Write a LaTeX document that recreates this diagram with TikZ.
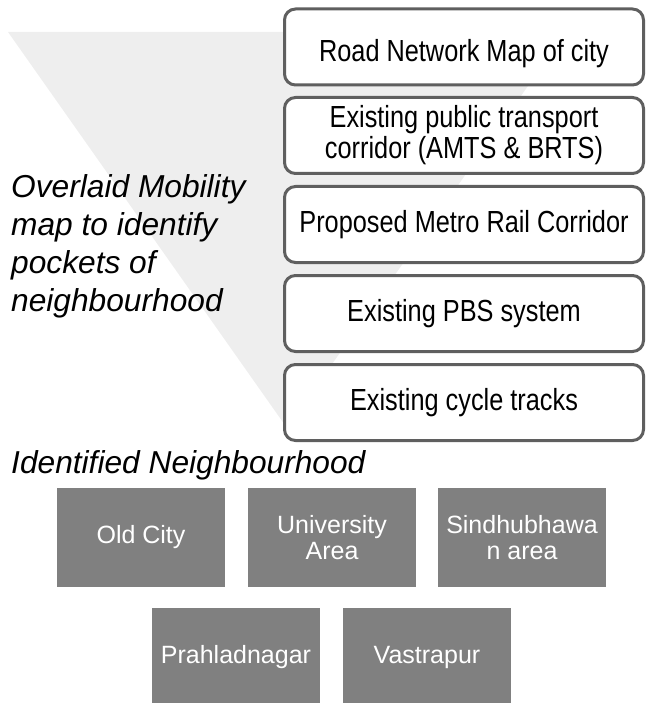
\documentclass[tikz,border=0pt]{standalone}
\usepackage{fontspec}
\setmainfont{Liberation Sans}
\newfontfamily\narrowsans[FakeStretch=0.83]{Liberation Sans}
\definecolor{funnelgray}{RGB}{238,238,238}
\definecolor{layerline}{RGB}{95,95,95}
\definecolor{areafill}{RGB}{128,128,128}

\tikzset{
  layerbox/.style={draw=layerline, line width=3pt, rounded corners=11pt,
    fill=white, minimum width=359pt, minimum height=76pt, inner sep=0pt,
    align=center, text=black, font=\narrowsans\fontsize{30.5}{31}\selectfont},
  areabox/.style={fill=areafill, minimum width=168pt, minimum height=99pt,
    inner sep=0pt, align=center, text=white,
    font=\fontsize{25}{26.5}\selectfont},
  heading/.style={inner sep=0pt, align=left, text=black,
    font=\itshape\fontsize{31.7}{38}\selectfont}
}

\begin{document}
\begin{tikzpicture}[x=1pt, y=-1pt]
  \useasboundingbox (0,0) rectangle (646,703);
  \clip (0,0) rectangle (646,703);

  % funnel behind the layer stack
  \fill[funnelgray] (8,32) -- (566,32) -- (287,428) -- cycle;

  % mobility layers
  \node[layerbox, text height=30pt, text depth=0pt] (road) at (464,47)
    {Road Network Map of city};
  \node[layerbox] (pt)     at (464,135.5) {Existing public transport\\corridor (AMTS \& BRTS)};
  \node[layerbox] (metro)  at (464,224.5) {Proposed Metro Rail Corridor};
  \node[layerbox] (pbs)    at (464,313.5) {Existing PBS system};
  \node[layerbox] (cycle)  at (464,402.5) {Existing cycle tracks};

  % captions
  \node[heading, anchor=north west] (overlay) at (11,174)
    {Overlaid Mobility\\map to identify\\pockets of\\neighbourhood};
  \node[heading, anchor=base west] (ident) at (11,473) {Identified Neighbourhood};

  % identified neighbourhoods
  \node[areabox] (oldcity) at (141,537.5) {Old City};
  \node[areabox] (univ)    at (332,537.5) {University\\Area};
  \node[areabox] (sindhu)  at (522,537.5) {Sindhubhawa\\n area};
  \node[areabox] (prahlad) at (236,657.5) {Prahladnagar};
  \node[areabox] (vastra)  at (427,657.5) {Vastrapur};
\end{tikzpicture}
\end{document}
